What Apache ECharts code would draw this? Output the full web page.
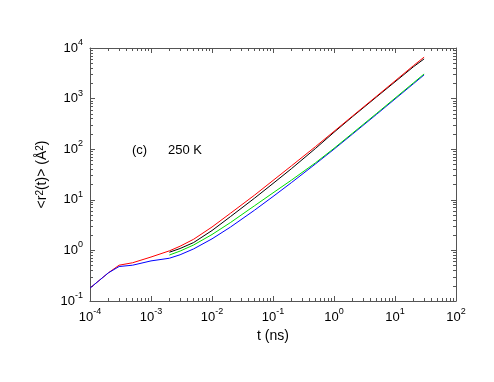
<!DOCTYPE html>
<html>
<head>
<meta charset="utf-8">
<script src="https://cdn.jsdelivr.net/npm/echarts@6/dist/echarts.min.js"></script>
<style>
html, body { margin: 0; padding: 0; background: #fff; }
#main { width: 494px; height: 382px; }
</style>
</head>
<body>
<div id="main"></div>
<script>
// time (ns) for the two curves that start at 1e-4
var timeLong = [1e-4, 2e-4, 3e-4, 5e-4, 1e-3, 2e-3, 3e-3, 5e-3, 1e-2, 2e-2, 5e-2, 0.1, 0.2, 0.5, 1, 2, 5, 10, 20, 30];
// time (ns) for the two curves that start at 2e-3
var timeShort = [2e-3, 3e-3, 5e-3, 1e-2, 2e-2, 5e-2, 0.1, 0.2, 0.5, 1, 2, 5, 10, 20, 30];

var redValues = [0.18, 0.36, 0.51, 0.57, 0.74, 0.98, 1.21, 1.66, 2.9, 5.4, 12.4, 24.1, 46.7, 113, 225, 450, 1117, 2234, 4470, 6600];
var blueValues = [0.18, 0.36, 0.48, 0.51, 0.62, 0.70, 0.82, 1.07, 1.69, 2.88, 6.25, 11.6, 21.8, 51.5, 100, 198, 490, 980, 1960, 2940];
var blackValues = [0.92, 1.09, 1.43, 2.47, 4.64, 10.8, 21.0, 41.1, 104, 216, 437, 1083, 2145, 4247, 6085];
var greenValues = [0.81, 0.97, 1.28, 2.06, 3.54, 7.65, 13.7, 24.4, 54.1, 104, 206, 510, 1020, 2040, 3070];

var xTicks = [1e-4, 1e-3, 1e-2, 1e-1, 1, 10, 100];
var yTicks = [1e-1, 1, 10, 100, 1000, 10000];

function pairs(t, v) {
    var out = [];
    for (var i = 0; i < t.length; i++) out.push([t[i], v[i]]);
    return out;
}

// gnuplot style minor ticks at 2..9 of every decade
function minorTicks(major) {
    var out = [];
    for (var i = 0; i < major.length - 1; i++) {
        for (var k = 2; k <= 9; k++) out.push(major[i] * k);
    }
    return out;
}

var font = 'Liberation Sans, Arial, sans-serif';
var frameColor = '#555';

function powLabel(v) {
    var e = Math.round(Math.log10(v));
    return '{a|10}{b|' + e + '}';
}
var powRich = {
    a: { fontSize: 13, fontFamily: font, color: '#000', lineHeight: 20 },
    b: { fontSize: 9, fontFamily: font, color: '#000', lineHeight: 10, verticalAlign: 'top' }
};

function makeAxis(kind, pos, ticks, isMajor, withLabels, extra) {
    var a = {
        type: 'log',
        logBase: 10,
        position: pos,
        min: ticks[0],
        max: ticks[ticks.length - 1],
        axisLine: { show: isMajor, onZero: false, lineStyle: { color: frameColor, width: 1 } },
        axisTick: {
            show: true,
            inside: true,
            length: isMajor ? 5 : 3,
            customValues: isMajor ? ticks : minorTicks(ticks),
            lineStyle: { color: frameColor, width: 1 }
        },
        axisLabel: { show: false },
        splitLine: { show: false },
        minorTick: { show: false }
    };
    if (withLabels) {
        a.axisLabel = {
            show: true,
            customValues: ticks,
            formatter: powLabel,
            rich: powRich,
            margin: kind === 'x' ? 6 : 7
        };
    }
    for (var k in extra) a[k] = extra[k];
    return a;
}

var myChart = echarts.init(document.getElementById('main'));

function curve(name, t, v, color) {
    return {
        name: name,
        type: 'line',
        data: pairs(t, v),
        showSymbol: false,
        smooth: false,
        lineStyle: { color: color, width: 1 }
    };
}

option = {
    animation: false,
    backgroundColor: '#fff',
    grid: { left: 90, right: 38, top: 48, bottom: 81 },
    xAxis: [
        makeAxis('x', 'bottom', xTicks, true, true, {
            name: 't (ns)',
            nameLocation: 'middle',
            nameGap: 28,
            nameTextStyle: { fontSize: 14, fontFamily: font, color: '#000' }
        }),
        makeAxis('x', 'bottom', xTicks, false, false, {}),
        makeAxis('x', 'top', xTicks, true, false, {}),
        makeAxis('x', 'top', xTicks, false, false, {})
    ],
    yAxis: [
        makeAxis('y', 'left', yTicks, true, true, {
            name: '<r{s|2}(t)> (Å{s|2})',
            nameLocation: 'middle',
            nameGap: 36,
            nameRotate: 90,
            nameTextStyle: {
                fontSize: 14, fontFamily: font, color: '#000',
                rich: {
                    s: { fontSize: 10, fontFamily: font, color: '#000', verticalAlign: 'top', lineHeight: 10 }
                }
            }
        }),
        makeAxis('y', 'left', yTicks, false, false, {}),
        makeAxis('y', 'right', yTicks, true, false, {}),
        makeAxis('y', 'right', yTicks, false, false, {})
    ],
    graphic: [
        { type: 'text', left: 132, top: 144, style: { text: '(c)', fontSize: 13, fontFamily: font, fill: '#000' } },
        { type: 'text', left: 168, top: 144, style: { text: '250 K', fontSize: 13, fontFamily: font, fill: '#000' } }
    ],
    series: [
        curve('black', timeShort, blackValues, '#000000'),
        curve('red', timeLong, redValues, '#ff0000'),
        curve('blue', timeLong, blueValues, '#0000ff'),
        curve('green', timeShort, greenValues, '#00dd00')
    ]
};

myChart.setOption(option);
</script>
</body>
</html>
